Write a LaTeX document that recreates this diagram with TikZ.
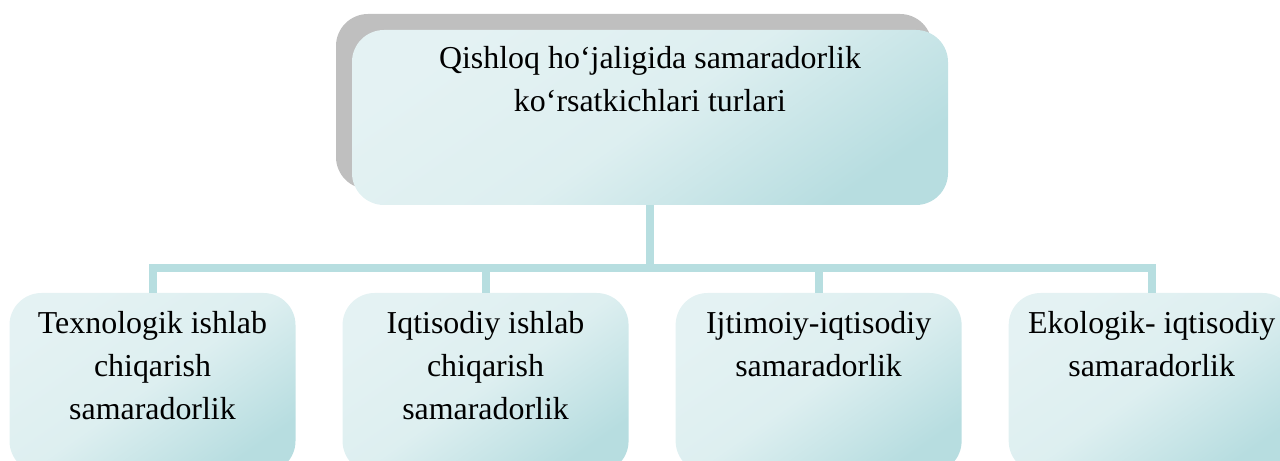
\documentclass[tikz,border=0pt]{standalone}
\definecolor{boxlight}{HTML}{E4F2F3}
\definecolor{boxdark}{HTML}{B7DDE0}
\definecolor{shadowgrey}{HTML}{BFBFBF}
\definecolor{linkblue}{HTML}{B7DEE0}
\usepackage{fontspec}
\setmainfont{Liberation Serif}
\usetikzlibrary{positioning, calc}

\begin{document}
\begin{tikzpicture}[
    card/.style={rounded corners=0.8cm, top color=boxlight, bottom color=boxdark,
                 middle color=boxlight!85!boxdark, shading angle=35,
                 minimum width=7.15cm, minimum height=4.5cm, inner sep=0pt},
    txt/.style={font=\fontsize{22.7}{30.6}\selectfont, align=center, inner sep=0pt},
    link/.style={draw=linkblue, line width=0.2cm}
  ]
    \useasboundingbox (0,0) rectangle (32,-11.525);

    % top box with its grey shadow
    \node[fill=shadowgrey, rounded corners=0.8cm, minimum width=14.9cm,
          minimum height=4.375cm, inner sep=0pt] (shad) at (15.85,-2.5375) {};
    \node[card, minimum width=14.9cm, minimum height=4.375cm] (main) at (16.25,-2.9375) {};
    \node[txt, below=0.4cm of main.north] (maintxt) {
      Qishloq ho‘jaligida samaradorlik\\
      ko‘rsatkichlari turlari
    };

    % four kinds
    \node[card] (tex) at (3.8125,-9.575) {};
    \node[card, right=1.1625cm of tex] (iqt) {};
    \node[card, right=1.1625cm of iqt] (ijt) {};
    \node[card, right=1.1625cm of ijt] (eko) {};

    \node[txt, below=0.45cm of tex.north] (textxt) {Texnologik ishlab\\chiqarish\\samaradorlik};
    \node[txt, below=0.45cm of iqt.north] (iqttxt) {Iqtisodiy ishlab\\chiqarish\\samaradorlik};
    \node[txt, below=0.45cm of ijt.north] (ijttxt) {Ijtimoiy-iqtisodiy\\samaradorlik};
    \node[txt, below=0.45cm of eko.north] (ekotxt) {Ekologik- iqtisodiy\\samaradorlik};

    % connectors
    \coordinate (bus) at ($(main.south)+(0,-1.575)$);
    \draw[link] (main.south) -- (bus);
    \draw[link] (tex.north) |- (bus) -| (eko.north);
    \draw[link] (iqt.north) -- (iqt.north |- bus);
    \draw[link] (ijt.north) -- (ijt.north |- bus);
  \end{tikzpicture}
\end{document}
